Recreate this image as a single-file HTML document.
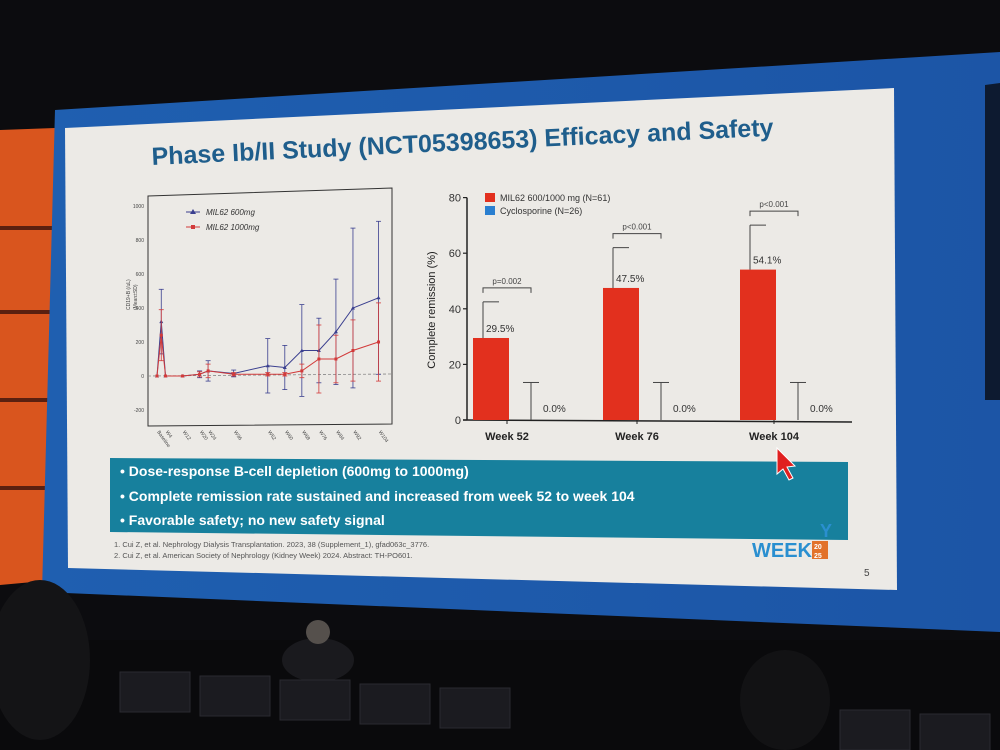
<!DOCTYPE html>
<html><head><meta charset="utf-8"><style>
html,body{margin:0;padding:0;width:1000px;height:750px;overflow:hidden;background:#0b0b0d;font-family:"Liberation Sans",sans-serif}
#scene{position:absolute;left:0;top:0}
</style></head><body>
<svg id="scene" width="1000" height="750">
  <defs>
    <linearGradient id="scr" x1="0" y1="0" x2="1" y2="0">
      <stop offset="0" stop-color="#1f5fb0"/><stop offset="1" stop-color="#1c55a6"/>
    </linearGradient>
  </defs>
  <rect x="0" y="0" width="1000" height="750" fill="#0c0c0f"/>
  <polygon points="0,130 55,128 55,580 0,585" fill="#d9551e"/>
  <line x1="0" y1="228" x2="55" y2="228" stroke="#5a2010" stroke-width="4"/>
  <line x1="0" y1="312" x2="55" y2="312" stroke="#5a2010" stroke-width="4"/>
  <line x1="0" y1="400" x2="55" y2="400" stroke="#5a2010" stroke-width="4"/>
  <line x1="0" y1="488" x2="55" y2="488" stroke="#5a2010" stroke-width="4"/>
  <polygon points="55,110 1000,52 1000,632 42,592" fill="url(#scr)"/>
  <polygon points="985,85 1000,83 1000,400 985,400" fill="#0d1a30"/>
  <polygon points="65,128 894,88 897,590 68,568" fill="#eceae6"/>
  <text x="152" y="165" font-size="25" font-weight="bold" fill="#1f5e8c" transform="rotate(-2.7 152 165)">Phase Ib/II Study (NCT05398653) Efficacy and Safety</text>

  <polygon points="148,196 392,188 392,424 148,426" fill="none" stroke="#333" stroke-width="1"/>
  <g id="leftAxis" font-size="5" fill="#444"></g>
  <g id="leftPlot"></g>
  <text x="130" y="310" font-size="5" fill="#444" transform="rotate(-90 130 310)">CD19+B (/uL)</text>
  <text x="137" y="310" font-size="5" fill="#444" transform="rotate(-90 137 310)">(Mean±SD)</text>
  <g>
    <line x1="186" y1="212" x2="200" y2="212" stroke="#3a3f8f"/><polygon points="193,209 190,214 196,214" fill="#3a3f8f"/>
    <text x="206" y="215" font-size="8" font-style="italic" fill="#333">MIL62 600mg</text>
    <line x1="186" y1="227" x2="200" y2="227" stroke="#d23a3a"/><rect x="191" y="225" width="4" height="4" fill="#d23a3a"/>
    <text x="206" y="230" font-size="8" font-style="italic" fill="#333">MIL62 1000mg</text>
  </g>

  <g id="rightChart"></g>

  <polygon points="110,458 848,462 848,540 110,532" fill="#17809d"/>
  <g font-size="14" font-weight="bold" fill="#fff">
    <text x="120" y="476">•   Dose-response B-cell depletion (600mg to 1000mg)</text>
    <text x="120" y="501">•   Complete remission rate sustained and increased from week 52 to week 104</text>
    <text x="120" y="525">•   Favorable safety; no new safety signal</text>
  </g>
  <g font-size="7.5" fill="#555">
    <text x="114" y="547">1.   Cui Z, et al. Nephrology Dialysis Transplantation. 2023, 38 (Supplement_1), gfad063c_3776.</text>
    <text x="114" y="558">2.   Cui Z, et al. American Society of Nephrology (Kidney Week) 2024. Abstract: TH-PO601.</text>
  </g>
  <text x="752" y="557" font-size="20" font-weight="bold" fill="#2a8fd0">WEEK</text>
  <rect x="812" y="541" width="16" height="18" fill="#e2722a"/>
  <text x="814" y="549" font-size="7" fill="#fff" font-weight="bold">20</text>
  <text x="814" y="558" font-size="7" fill="#fff" font-weight="bold">25</text>
  <text x="820" y="537" font-size="18" font-weight="bold" fill="#2a8fd0">Y</text>
  <text x="864" y="576" font-size="10" fill="#444">5</text>

  <polygon points="777,448 777,474 783,469 789,480 793,478 787,467 795,466" fill="#e02020" stroke="#fff" stroke-width="1"/>

  <rect x="0" y="640" width="1000" height="110" fill="#0a0a0c"/>
  <ellipse cx="318" cy="660" rx="36" ry="22" fill="#1a1a1e"/>
  <circle cx="318" cy="632" r="12" fill="#55504c"/>
  <ellipse cx="785" cy="700" rx="45" ry="50" fill="#121214"/>
  <ellipse cx="40" cy="660" rx="50" ry="80" fill="#141416"/>
  <g fill="#1b1b20" stroke="#2a2a30">
    <rect x="120" y="672" width="70" height="40"/><rect x="200" y="676" width="70" height="40"/>
    <rect x="280" y="680" width="70" height="40"/><rect x="360" y="684" width="70" height="40"/>
    <rect x="440" y="688" width="70" height="40"/><rect x="840" y="710" width="70" height="40"/>
    <rect x="920" y="714" width="70" height="40"/>
  </g>
</svg>
<script>
const NS='http://www.w3.org/2000/svg';
function mk(tag,attrs,parent,txt){const e=document.createElementNS(NS,tag);for(const k in attrs)e.setAttribute(k,attrs[k]);if(txt!==undefined)e.textContent=txt;parent.appendChild(e);return e;}

const leftWeeks=[0,2,4,12,20,24,36,52,60,68,76,84,92,104];
const blueVals=[0,320,0,0,10,30,15,60,50,150,150,260,400,460];
const blueErr=[0,190,0,0,20,60,20,160,130,270,190,310,470,450];
const redVals=[0,240,0,0,10,30,10,10,10,30,100,100,150,200];
const redErr=[0,150,0,0,15,40,10,10,10,40,200,140,180,230];
const leftYTicks=[-200,0,200,400,600,800,1000];
const leftXLabels=["Baseline","W4","W12","W20","W24","W36","W52","W60","W68","W76","W84","W92","W104"];
const leftXLabelWeeks=[0,4,12,20,24,36,52,60,68,76,84,92,104];
const lx=w=>157+w*2.13;
const ly=v=>376-v*0.17;

const la=document.getElementById('leftAxis');
leftYTicks.forEach(t=>{
  const tx=mk('text',{x:144,y:ly(t)+2,'text-anchor':'end'},la,String(t));
  
  
});
leftXLabels.forEach((l,i)=>{
  const x=lx(leftXLabelWeeks[i]);
  const tx=mk('text',{x:x,y:432,transform:`rotate(55 ${x} 432)`},la,l);
  
  
});
const lp=document.getElementById('leftPlot');
mk('line',{x1:148,y1:ly(0),x2:392,y2:ly(0)-2,stroke:'#888','stroke-dasharray':'3,2','stroke-width':0.8},lp);
function series(vals,errs,color,name,marker){
  const g=mk('g',{},lp);
  
  
  vals.forEach((v,i)=>{
    const x=lx(leftWeeks[i]);
    if(errs[i]>0){
      mk('line',{x1:x,y1:ly(v-errs[i]),x2:x,y2:ly(v+errs[i]),stroke:color,'stroke-width':0.8},g);
      mk('line',{x1:x-2.5,y1:ly(v+errs[i]),x2:x+2.5,y2:ly(v+errs[i]),stroke:color,'stroke-width':0.8},g);
      mk('line',{x1:x-2.5,y1:ly(v-errs[i]),x2:x+2.5,y2:ly(v-errs[i]),stroke:color,'stroke-width':0.8},g);
    }
  });
  mk('polyline',{points:vals.map((v,i)=>lx(leftWeeks[i])+','+ly(v)).join(' '),fill:'none',stroke:color,'stroke-width':1},g);
  vals.forEach((v,i)=>{
    const x=lx(leftWeeks[i]),y=ly(v);
    const m=marker==='tri'?mk('polygon',{points:`${x},${y-2} ${x-2},${y+1.5} ${x+2},${y+1.5}`,fill:color},g):mk('rect',{x:x-1.5,y:y-1.5,width:3,height:3,fill:color},g);
    
    
  });
}
series(blueVals,blueErr,'#3a3f8f','series-600mg','tri');
series(redVals,redErr,'#d23a3a','series-1000mg','sq');

const rCats=["Week 52","Week 76","Week 104"];
const milVals=[29.5,47.5,54.1];
const milErr=[13,14.5,16];
const cycVals=[0,0,0];
const cycErr=[13.5,13.5,13.5];
const pLabels=["p=0.002","p<0.001","p<0.001"];
const rYTicks=[0,20,40,60,80];
const ry=v=>420-v*2.78;
const catX=[507,637,774];

const rc=document.getElementById('rightChart');
const ax=mk('g',{},rc);


mk('line',{x1:467,y1:ry(80),x2:467,y2:ry(0),stroke:'#222','stroke-width':1.5},ax);
mk('line',{x1:463,y1:ry(0),x2:852,y2:ry(0)+2,stroke:'#222','stroke-width':1.5},ax);
rYTicks.forEach(t=>{
  mk('line',{x1:463,y1:ry(t),x2:467,y2:ry(t),stroke:'#222','stroke-width':1.2},ax);
  const tx=mk('text',{x:461,y:ry(t)+4,'text-anchor':'end','font-size':11,fill:'#333'},ax,String(t));
  
  
});
const yt=mk('text',{x:435,y:310,'font-size':11,fill:'#222','text-anchor':'middle',transform:'rotate(-90 435 310)'},ax,'Complete remission (%)');



rCats.forEach((c,i)=>{
  const cx=catX[i];
  const bx=cx-34, bw=36;
  const g=mk('g',{},rc);
  
  
  const bar=mk('rect',{x:bx,y:ry(milVals[i]),width:bw,height:ry(0)-ry(milVals[i]),fill:'#e2301e'},g);
  
  
  const ex=bx+bw/2-8;
  mk('line',{x1:ex,y1:ry(milVals[i]),x2:ex,y2:ry(milVals[i]+milErr[i]),stroke:'#444'},g);
  mk('line',{x1:ex,y1:ry(milVals[i]+milErr[i]),x2:ex+16,y2:ry(milVals[i]+milErr[i]),stroke:'#444'},g);
  mk('text',{x:ex+3,y:ry(milVals[i])-6,'font-size':10,fill:'#333'},g,milVals[i].toFixed(1)+'%');
  const cxb=cx+24;
  const cb=mk('rect',{x:cxb-8,y:ry(cycVals[i]),width:16,height:ry(0)-ry(cycVals[i]),fill:'#2a6fd0'},g);
  
  
  mk('line',{x1:cxb,y1:ry(0),x2:cxb,y2:ry(cycVals[i]+cycErr[i]),stroke:'#444'},g);
  mk('line',{x1:cxb-8,y1:ry(cycVals[i]+cycErr[i]),x2:cxb+8,y2:ry(cycVals[i]+cycErr[i]),stroke:'#444'},g);
  mk('text',{x:cxb+12,y:ry(0)-8,'font-size':10,fill:'#333'},g,cycVals[i].toFixed(1)+'%');
  const top=ry(Math.max(milVals[i]+milErr[i],cycErr[i]))-14;
  const bl=ex, br=cxb;
  mk('polyline',{points:`${bl},${top+5} ${bl},${top} ${br},${top} ${br},${top+5}`,fill:'none',stroke:'#444'},g);
  mk('text',{x:(bl+br)/2,y:top-4,'font-size':8,fill:'#444','text-anchor':'middle'},g,pLabels[i]);
  mk('line',{x1:cx,y1:ry(0),x2:cx,y2:ry(0)+4,stroke:'#222'},g);
  const xl=mk('text',{x:cx,y:ry(0)+20,'font-size':11,'font-weight':'bold',fill:'#222','text-anchor':'middle'},g,c);
  
  
});
const lg=mk('g',{},rc);


mk('rect',{x:485,y:193,width:10,height:9,fill:'#e2301e'},lg);
mk('text',{x:500,y:201,'font-size':9,fill:'#333'},lg,'MIL62 600/1000 mg (N=61)');
mk('rect',{x:485,y:206,width:10,height:9,fill:'#2a7fd0'},lg);
mk('text',{x:500,y:214,'font-size':9,fill:'#333'},lg,'Cyclosporine (N=26)');
</script>
</body></html>
